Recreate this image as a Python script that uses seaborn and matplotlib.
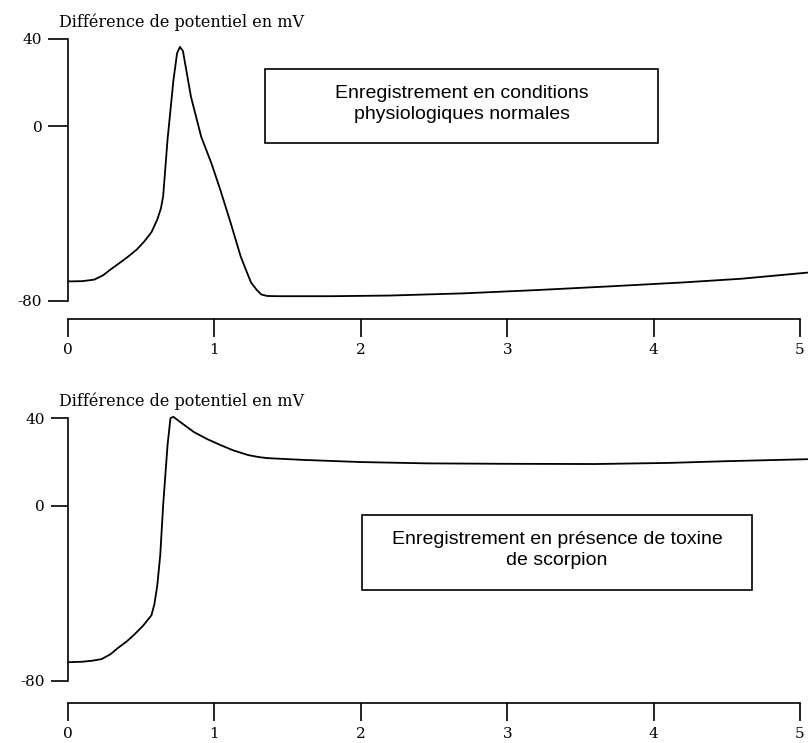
import matplotlib
matplotlib.use("Agg")
import matplotlib.pyplot as plt
import seaborn as sns
from matplotlib.patches import Rectangle

# ---- data ----
time_norm = [0, 0.03, 0.10, 0.18, 0.24, 0.29, 0.35, 0.41, 0.47, 0.52, 0.57, 0.61, 0.635,
             0.65, 0.68, 0.72, 0.745, 0.765, 0.785, 0.81, 0.84, 0.91, 0.98, 1.04, 1.11,
             1.18, 1.22, 1.25, 1.29, 1.32, 1.36, 1.43, 1.8, 2.2, 2.7, 3.2, 3.7, 4.2,
             4.6, 5.05]
v_norm = [-71, -71, -70.9, -70.2, -68.2, -65.6, -62.7, -59.7, -56.4, -52.8, -48.5, -42.7,
          -37.5, -32, -6, 21, 33.5, 36.4, 34.5, 25, 13.5, -4.8, -17, -29, -44,
          -59.7, -66.5, -71.5, -75, -77, -77.7, -77.8, -77.8, -77.5, -76.5, -75, -73.3,
          -71.5, -69.8, -67]

time_tox = [0, 0.02, 0.10, 0.17, 0.23, 0.29, 0.34, 0.40, 0.45, 0.51, 0.57, 0.59, 0.61,
            0.63, 0.65, 0.68, 0.70, 0.72, 0.78, 0.86, 0.95, 1.04, 1.13, 1.23, 1.30,
            1.36, 1.6, 2.0, 2.45, 3.0, 3.6, 4.1, 4.5, 5.05]
v_tox = [-71.4, -71.4, -71.2, -70.7, -70, -67.8, -65, -62, -59, -55, -50, -45, -36.3,
         -22.6, 0.3, 27.7, 40, 40.5, 37.5, 33.6, 30.4, 27.7, 25.2, 23.1, 22.2,
         21.7, 20.9, 19.9, 19.3, 19.1, 19.0, 19.5, 20.3, 21.2]

x_ticks = [0, 1, 2, 3, 4, 5]
y_ticks = [-80, 0, 40]
y_label = "Différence de potentiel en mV"
box_top = "Enregistrement en conditions\nphysiologiques normales"
box_bottom = "Enregistrement en présence de toxine\nde scorpion"

sns.set_style("white")
plt.rcParams['font.family'] = ['DejaVu Serif']
plt.rcParams['text.color'] = 'black'
plt.rcParams['xtick.color'] = 'black'
plt.rcParams['ytick.color'] = 'black'

W, H = 808, 743
fig = plt.figure(figsize=(W / 100, H / 100), dpi=100)


def fx(px):
    return px / W


def fy(py):
    return 1 - py / H


def panel(top_px, bot_px, xs, ys, outward_pt, ytick_len, title_base):
    left_px, right_px = 68, 808
    ax = fig.add_axes([fx(left_px), fy(bot_px), fx(right_px - left_px), (bot_px - top_px) / H])
    sns.lineplot(x=xs, y=ys, ax=ax, color='black', lw=1.3, sort=False,
                 estimator=None, clip_on=False)
    ax.set_xlim(0, 5 * (right_px - left_px) / 732)
    ax.set_ylim(-80, 40)
    for s in ['top', 'right']:
        ax.spines[s].set_visible(False)
    ax.spines['left'].set_bounds(-80, 40)
    ax.spines['bottom'].set_bounds(0, 5)
    ax.spines['bottom'].set_position(('outward', outward_pt))
    for s in ['left', 'bottom']:
        ax.spines[s].set_color('black')
        ax.spines[s].set_linewidth(1.2)
    ax.set_xticks(x_ticks)
    ax.set_xticklabels([str(t) for t in x_ticks])
    ax.set_yticks(y_ticks)
    ax.set_yticklabels([str(t) for t in y_ticks])
    ax.tick_params(axis='x', bottom=True, direction='out', length=13, width=1.2,
                   color='black', labelcolor='black', pad=4, labelsize=11)
    ax.tick_params(axis='y', left=True, direction='out', length=ytick_len, width=1.2,
                   color='black', labelcolor='black', pad=4, labelsize=11)
    ax.set_xlabel('')
    ax.set_ylabel('')
    ax.grid(False)
    fig.text(fx(59), fy(title_base), y_label, fontsize=11.5, ha='left', va='baseline',
             family='DejaVu Serif', color='black')
    return ax


ax1 = panel(39, 301, time_norm, v_norm, 13, 14.5, 27)
ax2 = panel(418, 681, time_tox, v_tox, 15.8, 12.5, 406)


def box(l, t, r, b, text, cy):
    fig.patches.append(Rectangle((fx(l), fy(b)), fx(r - l), (b - t) / H,
                                 transform=fig.transFigure, fill=False,
                                 edgecolor='black', lw=1.2))
    fig.text(fx((l + r) / 2), fy(cy), text, ha='center', va='center', fontsize=14,
             family='Liberation Sans', linespacing=1.3, color='black')


box(265, 69, 658, 143, box_top, 104)
box(362, 515, 752, 590, box_bottom, 550)

fig.savefig("out.png", dpi=100)
